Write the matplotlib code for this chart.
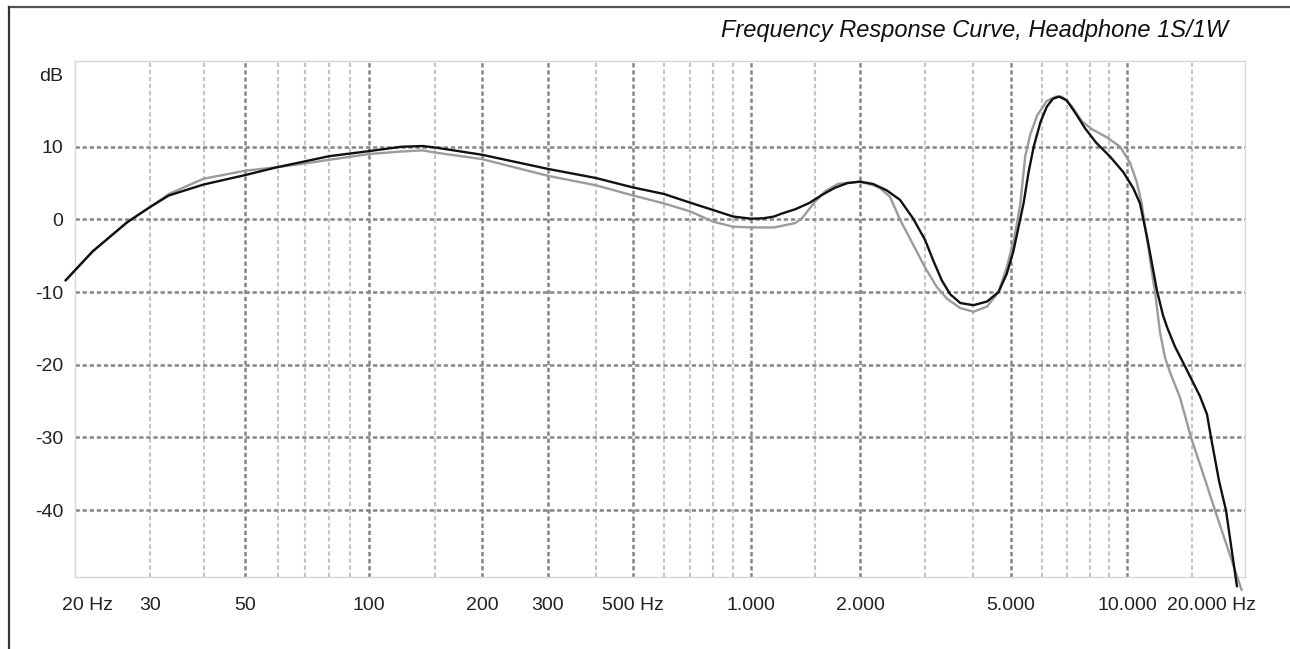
import numpy as np
import matplotlib
matplotlib.use("Agg")
import matplotlib.pyplot as plt
from matplotlib.transforms import ScaledTranslation
from matplotlib.lines import Line2D

plt.rcParams['font.family'] = ['Liberation Sans', 'DejaVu Sans']
plt.rcParams['lines.scale_dashes'] = False

# ---------------- data ----------------
freq_black = [19.0, 22.0, 26.5, 30, 33.2, 40, 50, 60, 70, 80, 100, 122, 139, 150, 200, 300, 400,
              500, 600, 700, 800, 900, 1000, 1080, 1158, 1212, 1325, 1448, 1574, 1704, 1847, 2000,
              2173, 2363, 2566, 2788, 3000, 3153, 3316, 3485, 3700, 4000, 4335, 4642, 4874, 5070,
              5281, 5389, 5554, 5726, 5963, 6191, 6421, 6662, 6973, 7335, 7794, 8304, 9053, 9785,
              10400, 10845, 11306, 11542, 12056, 12520, 12833, 13488, 14355, 15755, 16470, 16890,
              17760, 18540, 19860]
db_black = [-8.4, -4.4, -0.4, 1.7, 3.3, 4.8, 6.1, 7.2, 8.0, 8.7, 9.4, 10.0, 10.1, 9.9, 8.9, 6.95, 5.7,
            4.4, 3.5, 2.3, 1.3, 0.4, 0.1, 0.15, 0.4, 0.78, 1.4, 2.26, 3.4, 4.35, 5.0, 5.2,
            4.87, 4.0, 2.7, 0.1, -2.8, -5.7, -8.4, -10.3, -11.5, -11.8, -11.3, -10.0, -7.5, -4.4,
            0.0, 2.2, 6.5, 10.0, 13.4, 15.5, 16.6, 16.9, 16.4, 14.7, 12.5, 10.6, 8.6, 6.5,
            4.3, 2.2, -2.2, -4.6, -9.8, -13.2, -14.8, -17.5, -20.2, -24.3, -26.8, -30.0,
            -36.0, -40.0, -50.5]

freq_grey = [19.0, 22.0, 26.5, 30, 33.2, 40, 50, 60, 70, 80, 100, 122, 139, 150, 200, 300, 400,
             500, 600, 700, 800, 900, 1000, 1158, 1212, 1325, 1385, 1500, 1605, 1740, 2000, 2173,
             2266, 2412, 2566, 2788, 3000, 3218, 3417, 3700, 4000, 4335, 4642, 4874, 5070, 5123,
             5281, 5444, 5612, 5845, 6191, 6542, 6782, 7185, 7635, 8121, 8866, 9599, 10190,
             10620, 10960, 11190, 11400, 11615, 11910, 12286, 12674, 13074, 13917, 14910, 16270,
             17310, 20450]
db_grey = [-8.4, -4.4, -0.4, 1.7, 3.5, 5.6, 6.7, 7.2, 7.7, 8.2, 9.0, 9.35, 9.5, 9.2, 8.3, 6.0, 4.7,
           3.3, 2.2, 1.1, -0.3, -1.0, -1.1, -1.1, -0.9, -0.5, 0.2, 2.4, 3.9, 4.9, 5.2, 4.7,
           4.3, 3.1, 0.0, -3.5, -6.6, -9.3, -10.9, -12.2, -12.7, -12.0, -10.0, -6.6, -3.1, -2.0,
           2.0, 8.7, 11.7, 14.3, 16.3, 16.9, 16.9, 15.6, 13.5, 12.4, 11.3, 10.0, 7.8,
           5.2, 2.2, -1.0, -3.5, -6.5, -10.0, -15.5, -19.0, -21.0, -24.5, -30.0, -35.8,
           -40.0, -51.0]

xtick_vals = [20, 30, 50, 100, 200, 300, 500, 1000, 2000, 5000, 10000, 20000]
xtick_labels = ['20 Hz', '30', '50', '100', '200', '300', '500 Hz', '1.000', '2.000', '5.000',
                '10.000', '20.000 Hz']
ytick_vals = [20, 10, 0, -10, -20, -30, -40]
ytick_labels = ['dB', '10', '0', '-10', '-20', '-30', '-40']

grid_major_x = [50, 100, 200, 300, 500, 1000, 2000, 5000, 10000]
grid_minor_x = [30, 40, 60, 70, 80, 90, 150, 400, 600, 700, 800, 900, 1500, 3000, 4000,
                6000, 7000, 8000, 9000, 15000]
grid_y = [10, 0, -10, -20, -30, -40]

title = 'Frequency Response Curve, Headphone 1S/1W'

# ---------------- layout ----------------
W, H = 1290, 649
fig = plt.figure(figsize=(W / 100, H / 100), dpi=100)
ax = fig.add_axes([75 / W, 1 - 577 / H, (1245 - 75) / W, (577 - 61) / H])

# frequency axis of the original drawing: log-like, piecewise between labelled lines
KF = np.array([1, 20, 30, 50, 100, 200, 300, 500, 1000, 2000, 3000, 5000, 10000, 15000, 1e6])
KP = np.array([-479, 75, 150, 245, 369, 482, 548, 633, 751, 860, 925, 1011, 1127, 1192, 1865], float)
LK = np.log10(KF)


def fwd(x):
    x = np.asarray(x, float)
    return np.interp(np.log10(np.maximum(x, 1e-6)), LK, KP)


def inv(p):
    return 10 ** np.interp(np.asarray(p, float), KP, LK)


ax.set_xscale('function', functions=(fwd, inv))
ax.set_xlim(20, 20880)
ax.set_ylim(-49.2, 21.8)

dark = '#8a8484'
light = '#c6c3c3'
dash = (3.1, 2.0)
for f in grid_minor_x:
    ax.axvline(f, color=light, lw=1.5, dashes=dash, zorder=1)
for f in grid_major_x:
    ax.axvline(f, color=dark, lw=1.8, dashes=dash, zorder=1.5)
for v in grid_y:
    ax.axhline(v, color=dark, lw=1.8, dashes=dash, zorder=1.6)

ax.plot(freq_grey, db_grey, color='#9b9b9b', lw=1.7, zorder=3, clip_on=False,
        solid_joinstyle='round', solid_capstyle='round')
ax.plot(freq_black, db_black, color='#111111', lw=1.7, zorder=4, clip_on=False,
        solid_joinstyle='round', solid_capstyle='round')

ax.set_xticks(xtick_vals)
ax.set_xticklabels(xtick_labels)
ax.xaxis.set_minor_locator(matplotlib.ticker.NullLocator())
ax.set_yticks(ytick_vals)
ax.set_yticklabels(ytick_labels)
ax.tick_params(axis='x', length=0, pad=14.5, labelsize=14, labelcolor='#222222')
ax.tick_params(axis='y', length=0, pad=8.6, labelsize=14, labelcolor='#222222')

labs = ax.get_xticklabels()
labs[0].set_transform(labs[0].get_transform() + ScaledTranslation(0.13, 0, fig.dpi_scale_trans))
labs[-1].set_transform(labs[-1].get_transform() + ScaledTranslation(-0.27, 0, fig.dpi_scale_trans))

for s in ax.spines.values():
    s.set_color('#d6d6d6')
    s.set_linewidth(1.0)

# outer frame (top and left)
fig.add_artist(Line2D([9 / W, 1], [1 - 7 / H, 1 - 7 / H], transform=fig.transFigure,
                      color='#555555', lw=1.6))
fig.add_artist(Line2D([9 / W, 9 / W], [0, 1 - 7 / H], transform=fig.transFigure,
                      color='#333333', lw=1.6))

fig.text(1228 / W, 1 - 31 / H, title, ha='right', va='center', fontsize=17,
         style='italic', color='#111111')

fig.savefig('out.png', dpi=100)
